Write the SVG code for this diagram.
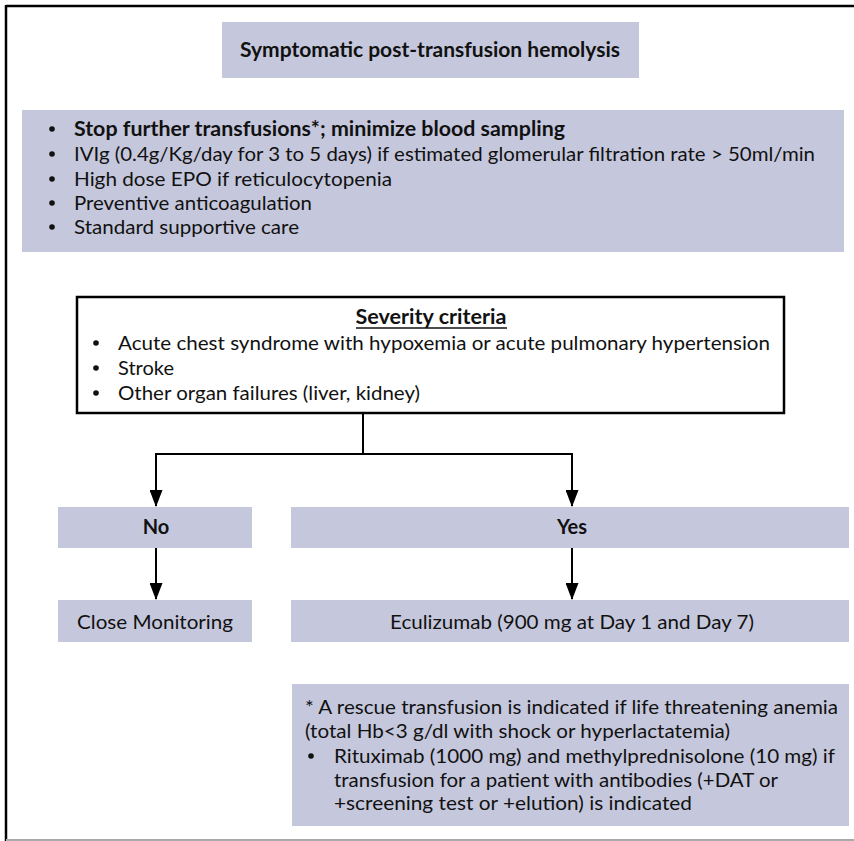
<svg xmlns="http://www.w3.org/2000/svg" width="854" height="841" viewBox="0 0 854 841">
<style>
.box{fill:#c5c7dc;}
.t{font-family:Lato,"Liberation Sans",sans-serif;font-size:20px;fill:#111;}
.b{font-weight:bold;}
.c{text-anchor:middle;}
.ln{stroke:#000;stroke-width:2;fill:none;}
.dot{fill:#111;}
</style>
<defs>
<marker id="ah" markerWidth="17" markerHeight="13" refX="16" refY="6.5" orient="auto" markerUnits="userSpaceOnUse" viewBox="0 0 17 13">
<path d="M0,0 L17,6.5 L0,13 Z" fill="#000"/>
</marker>
</defs>
<rect width="854" height="841" fill="#fff"/>
<line x1="6" y1="6" x2="854" y2="6" stroke="#000" stroke-width="2.5"/>
<line x1="6" y1="5" x2="6" y2="841" stroke="#000" stroke-width="2.5"/>
<line x1="6" y1="840" x2="854" y2="840" stroke="#aaa" stroke-width="2"/>

<g id="title">
<rect class="box" x="222" y="22" width="417" height="56"/>
<text class="t b c" x="430" y="57" textLength="380" lengthAdjust="spacingAndGlyphs">Symptomatic post-transfusion hemolysis</text>
</g>

<g id="measures">
<rect class="box" x="22" y="110" width="822" height="142"/>
<circle class="dot" cx="52" cy="129" r="2.8"/>
<circle class="dot" cx="52" cy="154" r="2.8"/>
<circle class="dot" cx="52" cy="179" r="2.8"/>
<circle class="dot" cx="52" cy="203" r="2.8"/>
<circle class="dot" cx="52" cy="227" r="2.8"/>
<text class="t b" x="74" y="136" textLength="491" lengthAdjust="spacingAndGlyphs">Stop further transfusions*; minimize blood sampling</text>
<text class="t" x="74" y="161" textLength="741" lengthAdjust="spacingAndGlyphs">IVIg (0.4g/Kg/day for 3 to 5 days) if estimated glomerular filtration rate &gt; 50ml/min</text>
<text class="t" x="74" y="186" textLength="318" lengthAdjust="spacingAndGlyphs">High dose  EPO if reticulocytopenia</text>
<text class="t" x="74" y="210" textLength="238" lengthAdjust="spacingAndGlyphs">Preventive anticoagulation</text>
<text class="t" x="74" y="234" textLength="225" lengthAdjust="spacingAndGlyphs">Standard supportive care</text>
</g>

<g id="severity">
<rect x="77" y="297" width="707" height="116" fill="#fff" stroke="#000" stroke-width="2.5"/>
<text class="t b c" x="431" y="324" textLength="151" lengthAdjust="spacingAndGlyphs">Severity criteria</text>
<line x1="356" y1="328" x2="507" y2="328" stroke="#111" stroke-width="1.5"/>
<circle class="dot" cx="96" cy="343" r="2.8"/>
<circle class="dot" cx="96" cy="368" r="2.8"/>
<circle class="dot" cx="96" cy="393" r="2.8"/>
<text class="t" x="118" y="350" textLength="652" lengthAdjust="spacingAndGlyphs">Acute chest syndrome with hypoxemia or acute pulmonary hypertension</text>
<text class="t" x="118" y="375" textLength="56" lengthAdjust="spacingAndGlyphs">Stroke</text>
<text class="t" x="118" y="400" textLength="302" lengthAdjust="spacingAndGlyphs">Other organ failures (liver, kidney)</text>
</g>

<g id="no">
<rect class="box" x="58" y="507" width="194" height="41"/>
<text class="t b c" x="156" y="534">No</text>
</g>
<g id="yes">
<rect class="box" x="291" y="507" width="558" height="41"/>
<text class="t b c" x="572" y="534">Yes</text>
</g>
<g id="close">
<rect class="box" x="58" y="600" width="194" height="42"/>
<text class="t c" x="155" y="629" textLength="156" lengthAdjust="spacingAndGlyphs">Close Monitoring</text>
</g>
<g id="eculizumab">
<rect class="box" x="291" y="600" width="558" height="42"/>
<text class="t c" x="572" y="629" textLength="364" lengthAdjust="spacingAndGlyphs">Eculizumab (900 mg at Day 1 and Day 7)</text>
</g>
<g id="footnote">
<rect class="box" x="292" y="684" width="557" height="142"/>
<text class="t" x="305" y="714" textLength="533" lengthAdjust="spacingAndGlyphs">* A rescue transfusion is indicated if life threatening anemia</text>
<text class="t" x="305" y="738" textLength="425" lengthAdjust="spacingAndGlyphs">(total Hb&lt;3 g/dl with shock or hyperlactatemia)</text>
<circle class="dot" cx="311" cy="756" r="2.8"/>
<text class="t" x="334" y="763" textLength="501" lengthAdjust="spacingAndGlyphs">Rituximab (1000 mg) and methylprednisolone (10 mg) if</text>
<text class="t" x="334" y="787" textLength="444" lengthAdjust="spacingAndGlyphs">transfusion for a patient with antibodies (+DAT or</text>
<text class="t" x="334" y="810" textLength="358" lengthAdjust="spacingAndGlyphs">+screening test or +elution) is indicated</text>
</g>

<g id="connectors">
<line class="ln" x1="363" y1="413" x2="363" y2="454"/>
<line class="ln" x1="155" y1="454" x2="573" y2="454"/>
<line class="ln" x1="156" y1="454" x2="156" y2="506" marker-end="url(#ah)"/>
<line class="ln" x1="572" y1="454" x2="572" y2="506" marker-end="url(#ah)"/>
<line class="ln" x1="156" y1="548" x2="156" y2="599" marker-end="url(#ah)"/>
<line class="ln" x1="572" y1="548" x2="572" y2="599" marker-end="url(#ah)"/>
</g>
</svg>
